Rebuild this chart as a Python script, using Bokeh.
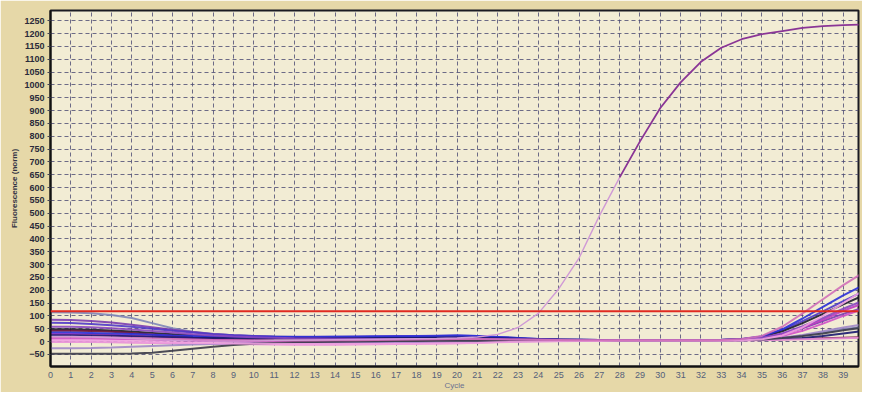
from bokeh.plotting import figure
from bokeh.models import FixedTicker, Span, Range1d
from bokeh.embed import file_html
from bokeh.resources import INLINE

cycles = list(range(0, 41))
x_ticks = list(range(0, 40))
y_ticks = list(range(-50, 1251, 50))

threshold = 118

sample_main = [20, 20, 18, 15, 12, 8, 5, 3, 2, 2, 3, 4, 5, 6, 7, 8, 9, 10, 11, 12,
               14, 18, 28, 55, 110, 205, 325, 490, 640, 780, 910, 1010, 1090, 1145,
               1178, 1198, 1210, 1222, 1229, 1233, 1236]

sample_a = [114, 113, 110, 104, 92, 72, 52, 38, 30, 25, 22, 20, 18, 17, 16, 15, 14, 13, 12, 12,
            12, 11, 10, 9, 8, 7, 6, 6, 5, 5, 5, 5, 5, 5, 6, 8, 14, 24, 36, 48, 58]
sample_b = [85, 84, 80, 74, 66, 56, 46, 37, 30, 25, 21, 18, 16, 15, 14, 13, 13, 12, 12, 13,
            14, 13, 11, 9, 7, 6, 5, 5, 4, 4, 4, 4, 4, 5, 7, 12, 28, 52, 80, 108, 132]
sample_c = [73, 72, 69, 64, 58, 50, 42, 35, 29, 25, 22, 20, 19, 19, 19, 20, 21, 22, 22, 23,
            24, 22, 18, 14, 10, 8, 7, 6, 6, 5, 5, 5, 6, 7, 10, 20, 45, 80, 118, 158, 195]
sample_d = [48, 48, 46, 43, 39, 34, 29, 24, 20, 17, 15, 14, 13, 13, 13, 14, 14, 15, 15, 16,
            16, 15, 13, 11, 9, 7, 6, 5, 5, 5, 5, 5, 5, 6, 9, 18, 40, 72, 108, 145, 180]
sample_e = [42, 42, 41, 38, 34, 28, 22, 16, 12, 8, 5, 3, 2, 2, 2, 3, 4, 5, 6, 7,
            8, 8, 7, 6, 5, 4, 4, 4, 4, 4, 4, 4, 5, 5, 6, 7, 9, 11, 13, 15, 17]
sample_f = [30, 30, 29, 27, 24, 20, 16, 12, 9, 6, 4, 2, 1, 0, 0, 0, 1, 2, 3, 4,
            5, 5, 5, 5, 4, 4, 4, 4, 4, 4, 4, 4, 4, 5, 7, 14, 30, 55, 85, 120, 150]
sample_g = [35, 35, 34, 32, 30, 27, 24, 22, 20, 19, 18, 18, 18, 18, 19, 19, 20, 20, 21, 22,
            24, 22, 18, 14, 10, 8, 7, 6, 6, 5, 5, 5, 5, 6, 9, 20, 48, 90, 135, 180, 220]
sample_h = [25, 25, 24, 23, 21, 19, 17, 15, 14, 13, 12, 12, 12, 12, 12, 13, 13, 14, 14, 15,
            16, 15, 13, 11, 9, 8, 7, 6, 6, 6, 6, 6, 6, 6, 7, 8, 10, 14, 22, 32, 42]
sample_i = [11, 11, 11, 10, 9, 7, 5, 3, 1, 0, -2, -4, -5, -6, -6, -6, -5, -4, -3, -2,
            -1, 0, 1, 2, 3, 3, 4, 4, 4, 4, 4, 4, 4, 5, 6, 10, 22, 42, 70, 100, 128]
sample_j = [-2, -2, -2, -3, -4, -5, -6, -7, -8, -9, -10, -11, -12, -12, -12, -11, -10, -9, -8, -7,
            -6, -4, -2, 0, 1, 2, 3, 3, 3, 3, 3, 3, 3, 3, 4, 5, 7, 9, 11, 13, 15]
sample_k = [-26, -26, -25, -23, -20, -17, -14, -11, -9, -7, -6, -5, -4, -4, -4, -3, -3, -2, -2, -1,
            0, 0, 1, 1, 2, 2, 2, 3, 3, 3, 3, 3, 3, 4, 5, 8, 15, 26, 40, 55, 68]
sample_l = [-47, -47, -47, -47, -46, -43, -36, -28, -20, -13, -8, -5, -3, -2, -1, 0, 1, 2, 2, 3,
            3, 3, 3, 3, 3, 3, 3, 3, 3, 3, 3, 3, 3, 4, 5, 8, 14, 22, 32, 44, 55]
sample_m = [58, 58, 56, 52, 47, 41, 35, 29, 24, 20, 17, 15, 13, 12, 11, 11, 10, 10, 10, 10,
            11, 11, 10, 9, 8, 7, 6, 6, 5, 5, 5, 5, 5, 6, 8, 15, 32, 60, 92, 128, 160]
sample_n = [5, 5, 4, 3, 1, -1, -3, -5, -6, -7, -8, -8, -9, -9, -9, -9, -9, -8, -8, -7,
            -6, -5, -3, -1, 0, 1, 2, 2, 3, 3, 3, 3, 3, 3, 4, 9, 24, 55, 100, 150, 200]
sample_o = [18, 18, 17, 16, 14, 12, 10, 8, 6, 5, 4, 4, 4, 4, 5, 5, 6, 7, 8, 9,
            10, 10, 9, 8, 7, 6, 5, 5, 5, 5, 5, 5, 5, 6, 10, 22, 58, 110, 165, 220, 270]

background_series = [
    (sample_a, "#7f86b8"),
    (sample_b, "#7a3cb0"),
    (sample_c, "#5038c8"),
    (sample_d, "#1c1c2c"),
    (sample_e, "#6a1238"),
    (sample_f, "#c03ac0"),
    (sample_g, "#2a30d8"),
    (sample_h, "#1a1a70"),
    (sample_i, "#d050c8"),
    (sample_j, "#e890d8"),
    (sample_k, "#a088c8"),
    (sample_l, "#3a3a48"),
    (sample_m, "#8a48c0"),
    (sample_n, "#f0a0e0"),
    (sample_o, "#d070b8"),
]

p = figure(width=862, height=392, output_backend="svg", toolbar_location=None,
           x_range=Range1d(0, 39.75), y_range=Range1d(-97, 1290),
           min_border_left=50, min_border_top=10, min_border_right=4, min_border_bottom=22)

p.background_fill_color = "#f2ecd4"
p.border_fill_color = "#e6d8a8"
p.outline_line_color = "#1a1a22"
p.outline_line_width = 2

for ys, col in background_series:
    p.line(cycles, ys, line_color=col, line_width=2, line_alpha=0.9)

p.line(cycles[:29], sample_main[:29], line_color="#d09ad6", line_width=1.4)
p.line(cycles[28:], sample_main[28:], line_color="#8a3596", line_width=1.8)

p.add_layout(Span(location=threshold, dimension="width", line_color="#e02a20", line_width=2))

p.xaxis.ticker = FixedTicker(ticks=x_ticks)
p.yaxis.ticker = FixedTicker(ticks=y_ticks)

p.xgrid.ticker = FixedTicker(ticks=x_ticks)
p.ygrid.ticker = FixedTicker(ticks=y_ticks)
for g in (p.xgrid, p.ygrid):
    g.grid_line_color = "#4a4a72"
    g.grid_line_alpha = 0.8
    g.grid_line_dash = "4 3"
    g.grid_line_width = 1

p.yaxis.axis_label = "Fluorescence (norm)"
p.xaxis.axis_label = "Cycle"
for ax in (p.xaxis, p.yaxis):
    ax.axis_line_color = "#111111"
    ax.axis_line_width = 2
    ax.major_tick_in = 0
    ax.major_tick_out = 3
    ax.minor_tick_line_color = None
    ax.major_tick_line_color = "#444455"
    ax.major_label_text_font = "Liberation Sans"
    ax.major_label_text_font_size = "9px"
    ax.axis_label_text_font = "Liberation Sans"
    ax.axis_label_text_font_size = "8px"
    ax.axis_label_text_font_style = "normal"
    ax.axis_label_text_color = "#333344"
    ax.axis_label_standoff = 2

p.yaxis.major_label_text_color = "#2a2a3a"
p.yaxis.major_label_text_font_style = "bold"
p.yaxis.major_label_standoff = 3
p.yaxis.axis_label_text_font_style = "bold"
p.xaxis.major_label_text_color = "#55607a"
p.xaxis.major_label_standoff = 5
p.xaxis.major_tick_out = 0
p.xaxis.axis_label_standoff = 0
p.xaxis.axis_label_text_color = "#6a7090"

html = file_html(p, INLINE)
open("out.html", "w").write(html)
